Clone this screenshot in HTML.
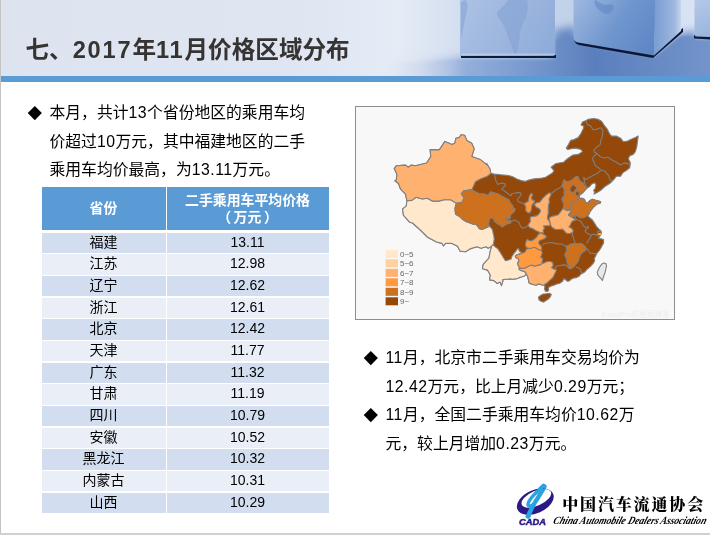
<!DOCTYPE html>
<html lang="zh-CN">
<head>
<meta charset="utf-8">
<title>七、2017年11月价格区域分布</title>
<style>
html,body{margin:0;padding:0;}
body{width:710px;height:535px;overflow:hidden;background:#fff;position:relative;
 font-family:"Liberation Sans","Noto Sans CJK SC",sans-serif;color:#000;}
.abs{position:absolute;}
#hdr{left:0;top:0;width:710px;height:76px;background:#dde4f0;overflow:hidden;}
#stripe{left:0;top:76px;width:710px;height:5.6px;background:#5b9bd5;}
#lborder{left:0;top:0;width:1px;height:535px;background:#c3c3c3;}
#bborder{left:0;top:533px;width:710px;height:2px;background:#d0d0d0;}
#title{left:25.5px;top:32.5px;font-size:23.6px;font-weight:bold;color:#363333;white-space:nowrap;line-height:34px;}
#title span{letter-spacing:1.8px;}
.bl{font-size:15.8px;line-height:28.75px;white-space:nowrap;color:#000;}
.n{letter-spacing:0.5px;}
.dia{width:9.6px;height:9.6px;background:#000;transform:rotate(45deg);}
table{border-collapse:separate;border-spacing:0;}
#tbl{left:41.5px;top:187px;width:287px;}
.th{background:#5b9bd5;color:#fff;font-weight:bold;font-size:13.9px;text-align:center;}
.tr{height:20.5px;font-size:14px;line-height:19px;text-align:center;}
.c1{left:0;width:124px;}
.c2{left:125px;width:162px;}
#mapframe{left:355px;top:106px;width:318px;height:212px;border:1px solid #8e8e8e;background:#f8f8f8;}
</style>
</head>
<body>
<div id="hdr" class="abs"><svg class="abs" style="left:0;top:0" width="710" height="76" viewBox="0 0 710 76">
<defs>
<linearGradient id="bgx" x1="0" y1="0" x2="710" y2="0" gradientUnits="userSpaceOnUse">
<stop offset="0" stop-color="#dde3ef"/><stop offset="0.42" stop-color="#dfe5f1"/><stop offset="0.56" stop-color="#e6ecf6"/><stop offset="0.66" stop-color="#d0dcef"/><stop offset="0.8" stop-color="#c2d1ea"/><stop offset="1" stop-color="#dbe5f4"/>
</linearGradient>
<linearGradient id="floor" x1="380" y1="0" x2="710" y2="0" gradientUnits="userSpaceOnUse">
<stop offset="0" stop-color="#dfe5f1" stop-opacity="0"/><stop offset="0.12" stop-color="#cdd8ec" stop-opacity="0.5"/><stop offset="0.2" stop-color="#b4c6e4" stop-opacity="0.95"/><stop offset="0.26" stop-color="#93aedb"/><stop offset="0.4" stop-color="#7f9fd2"/><stop offset="0.65" stop-color="#5a7fbd"/><stop offset="1" stop-color="#7394cb"/>
</linearGradient>
<linearGradient id="floorv" x1="0" y1="20" x2="0" y2="76" gradientUnits="userSpaceOnUse">
<stop offset="0" stop-color="#fff" stop-opacity="0.0"/><stop offset="0.5" stop-color="#fff" stop-opacity="0"/><stop offset="1" stop-color="#fff" stop-opacity="0.12"/>
</linearGradient>
<linearGradient id="c1" x1="460" y1="0" x2="555" y2="56" gradientUnits="userSpaceOnUse">
<stop offset="0" stop-color="#adc2e4"/><stop offset="0.5" stop-color="#9db6de"/><stop offset="1" stop-color="#8caad9"/>
</linearGradient>
<linearGradient id="c2" x1="574" y1="0" x2="655" y2="55" gradientUnits="userSpaceOnUse">
<stop offset="0" stop-color="#9fb9e0"/><stop offset="0.5" stop-color="#7096ce"/><stop offset="1" stop-color="#5c84c4"/>
</linearGradient>
<linearGradient id="c2s" x1="655" y1="0" x2="681" y2="0" gradientUnits="userSpaceOnUse">
<stop offset="0" stop-color="#7a9dd2"/><stop offset="0.75" stop-color="#9db7df"/><stop offset="1" stop-color="#c6d6ee"/>
</linearGradient>
<linearGradient id="c3" x1="694" y1="0" x2="710" y2="36" gradientUnits="userSpaceOnUse">
<stop offset="0" stop-color="#b5c9e8"/><stop offset="1" stop-color="#9ab5de"/>
</linearGradient>
<filter id="b2" x="-20%" y="-20%" width="140%" height="140%"><feGaussianBlur stdDeviation="1.2"/></filter>
<filter id="b6" x="-30%" y="-30%" width="160%" height="160%"><feGaussianBlur stdDeviation="4"/></filter>
<filter id="b1" x="-20%" y="-20%" width="140%" height="140%"><feGaussianBlur stdDeviation="0.7"/></filter>
</defs>
<rect x="0" y="0" width="710" height="76" fill="url(#bgx)"/>
<!-- floor -->
<g filter="url(#b6)">
<path d="M370,84 L370,62 L462,57 L552,58 L554,30 L576,26 L576,40 L654,56 L680,34 L696,30 L696,38 L720,38 L720,84 Z" fill="url(#floor)"/>
</g>
<g filter="url(#b2)">
<path d="M380,84 L380,63 L460,60 L556,60 L556,40 L575,36 L576,44 L654,58 L681,36 L694,36 L694,40 L720,40 L720,84 Z" fill="url(#floor)"/>
</g>
<!-- cube 1 -->
<path d="M461,58 L556,58 L556,55 L461,55 Z" fill="#0e1c3c" filter="url(#b1)"/>
<rect x="460" y="-2" width="95" height="58" rx="2" fill="url(#c1)"/>
<g fill="#7f9fd5" opacity="0.5" filter="url(#b1)">
<path d="M461,2 L466,0 L468,6 C467,12 465,18 464,24 C463,30 462,34 461,36 Z"/>
<path d="M508,0 L527,0 C528.5,6 528,12 526,17 C524,22 521,27 520,32 C519.5,38 519,44 518,50 C516.5,54 514.5,55 513.5,52 C512,46 509,40 507,34 C505,28 503,24 500,20 C498,17 496.5,14 497,12 C500,9 504,6 508,0 Z"/>
</g>
<rect x="461" y="53.6" width="94" height="1.2" fill="#c9d8ef" opacity="0.7"/>
<!-- cube 2 -->
<path d="M574,40 Q575,44 579,45 L653,58 L683,32 L683,28 L653,53 L580,40 Z" fill="#0b1836" filter="url(#b1)"/>
<path d="M573.5,-2 L573.5,38 Q574,42 578,42.5 L654,55.5 L656,-2 Z" fill="url(#c2)"/>
<path d="M655,-2 L654,55.5 L681,31 L681,-2 Z" fill="url(#c2s)"/>
<g fill="#567fc0" opacity="0.45" filter="url(#b1)">
<path d="M596,0 C600,4 606,6 612,4 C616,8 612,14 606,14 C600,12 596,8 594,2 Z"/>
</g>
<!-- cube 3 -->
<path d="M694,38.5 L710,39.5 L710,36 L694,35 Z" fill="#0e1c3c" filter="url(#b1)"/>
<path d="M694.5,-2 L694.5,35 Q695,36.5 697,36.6 L712,37.2 L712,-2 Z" fill="url(#c3)"/>
</svg>
</div>
<div id="stripe" class="abs"></div>
<div id="title" class="abs">七、<span>2017</span>年<span>11</span>月价格区域分布</div>

<div class="abs dia" style="left:30px;top:107.9px"></div>
<div class="abs bl" style="left:49.5px;top:98.9px">本月，共计<span class="n">13</span>个省份地区的乘用车均</div>
<div class="abs bl" style="left:49.5px;top:127.65px">价超过<span class="n">10</span>万元，其中福建地区的二手</div>
<div class="abs bl" style="left:49.5px;top:156.4px">乘用车均价最高，为<span class="n">13.11</span>万元。</div>

<div id="tbl" class="abs"><div class="abs th c1" style="top:0;height:42.5px;line-height:42.5px">省份</div>
<div class="abs th c2" style="top:0;height:42.5px;line-height:16.6px"><div style="padding-top:5.3px">二手乘用车平均价格<br><span style="margin-right:2.5px">（</span>万元<span style="margin-left:2.5px">）</span></div></div>
<div class="abs tr c1" style="top:45.50px;background:#d2deef">福建</div>
<div class="abs tr c2" style="top:45.50px;background:#d2deef">13.11</div>
<div class="abs tr c1" style="top:67.18px;background:#eaeff7">江苏</div>
<div class="abs tr c2" style="top:67.18px;background:#eaeff7">12.98</div>
<div class="abs tr c1" style="top:88.86px;background:#d2deef">辽宁</div>
<div class="abs tr c2" style="top:88.86px;background:#d2deef">12.62</div>
<div class="abs tr c1" style="top:110.54px;background:#eaeff7">浙江</div>
<div class="abs tr c2" style="top:110.54px;background:#eaeff7">12.61</div>
<div class="abs tr c1" style="top:132.22px;background:#d2deef">北京</div>
<div class="abs tr c2" style="top:132.22px;background:#d2deef">12.42</div>
<div class="abs tr c1" style="top:153.90px;background:#eaeff7">天津</div>
<div class="abs tr c2" style="top:153.90px;background:#eaeff7">11.77</div>
<div class="abs tr c1" style="top:175.58px;background:#d2deef">广东</div>
<div class="abs tr c2" style="top:175.58px;background:#d2deef">11.32</div>
<div class="abs tr c1" style="top:197.26px;background:#eaeff7">甘肃</div>
<div class="abs tr c2" style="top:197.26px;background:#eaeff7">11.19</div>
<div class="abs tr c1" style="top:218.94px;background:#d2deef">四川</div>
<div class="abs tr c2" style="top:218.94px;background:#d2deef">10.79</div>
<div class="abs tr c1" style="top:240.62px;background:#eaeff7">安徽</div>
<div class="abs tr c2" style="top:240.62px;background:#eaeff7">10.52</div>
<div class="abs tr c1" style="top:262.30px;background:#d2deef">黑龙江</div>
<div class="abs tr c2" style="top:262.30px;background:#d2deef">10.32</div>
<div class="abs tr c1" style="top:283.98px;background:#eaeff7">内蒙古</div>
<div class="abs tr c2" style="top:283.98px;background:#eaeff7">10.31</div>
<div class="abs tr c1" style="top:305.66px;background:#d2deef">山西</div>
<div class="abs tr c2" style="top:305.66px;background:#d2deef">10.29</div></div>

<div id="mapframe" class="abs"></div>
<svg class="abs" style="left:0;top:0" width="710" height="535" viewBox="0 0 710 535">
<g stroke="#808080" stroke-width="1.1" stroke-linejoin="round">
<polygon fill="#944809" points="394.2,168.6 396.3,165.8 405.5,165.1 408.3,167.2 411.1,165.1 415.4,165.8 426.6,163 430.8,156.6 430.1,149.6 439.3,149.9 444.9,141.4 452,144.6 454.8,143.2 455.9,138.3 459,137.6 461.1,134.8 464.6,135.2 466.8,140.4 471.7,143.2 474.2,148.9 471.7,156.6 480.1,159.4 487.2,165.1 486.6,163.5 490.1,169.2 490.8,173.4 494.4,174.1 500.7,174.8 504.2,175.1 508.5,175.5 512.7,176.8 516.9,178.9 521.1,180.6 525.4,181.4 528.7,180.1 533.8,178.9 538,178.5 542.3,178 545.6,177.2 549,175.1 552.4,173 554.1,170.8 551.1,167.1 556,163.5 563.5,162.2 568.5,158 572.7,155.1 578.3,154.4 582.5,151.6 581.1,149.5 575.5,148.1 571.3,148.8 567.7,149.5 566.3,148.1 568.5,144.6 570.6,140.4 574.1,139.6 578.3,137.5 581.1,133.3 583.2,129.1 583.9,126.3 581.1,124.9 582.5,122 586.1,120.6 588.2,119.2 593.8,118.5 598,119.2 601.5,121.3 604.4,125.6 607.2,129.1 609.3,133.3 611.4,136.1 616.3,136.1 620.6,138.2 623.4,141.8 627.6,141.1 631.8,138.9 635.4,137.5 638.2,136.1 637.5,141.1 636.8,146.7 635.4,151.6 633.2,154.4 629.7,155.8 628.3,158.7 630.4,162.9 629.7,167.8 626.2,170.6 622.7,172.7 620.6,176.3 616.3,176.3 613.5,179.8 610,183.3 604.9,186.5 600.7,190.3 597.3,192.4 593.9,194.1 594.8,191.5 593.5,190.7 595.2,188.2 596.1,184.8 594.4,182.7 591.8,183.9 589.7,186.5 586.8,188.2 584.6,190.7 582.5,192.8 580.4,194.5 579.2,195.8 579.6,198.3 582.1,198.3 584.6,199.6 585.5,202.5 587.6,203 589.7,200.8 592.3,199.2 594.8,200 597.7,200.8 600.7,201.7 599.9,203.4 597.3,203.8 595.2,205.5 593.1,207.6 591.4,209.7 589.7,212.3 588.5,215 587.1,215.6 589.6,217.7 592.2,219.8 593.9,222.3 595.6,224.9 596.8,227 598.9,229.1 600.6,230.4 601.3,232 601.3,233.7 600.5,235 599.8,236.3 598.5,238.4 601.1,238.8 603.6,239.6 603.6,243 601.9,245.9 600.6,248.5 598.9,251 596.8,253.5 595.6,256.1 594.3,258.2 594.7,260.7 593,263.7 590.9,265.8 588.8,267.9 586.7,269.6 585,271.7 582.9,273 582,273.4 580.4,274.6 579.1,276.3 576.5,277.6 574,278 571.5,278.9 569.8,280.6 567.7,281.4 565.6,279.7 563.9,278.5 563,280.6 561.3,282.3 559.2,283.5 556.7,283.9 553.8,285.2 551.3,286.1 549.2,286.9 548.3,288.2 548.7,290.3 547,291.5 545.4,291.1 544.5,289 544.9,286.9 544.1,284.8 542.8,285.2 540.7,284.4 538.2,283.9 536.5,285.2 533.9,284.8 531,283.9 528.9,282.7 528.5,280.1 527.5,275.9 526.2,274.2 524.5,275.9 522,276.8 519.9,277.2 517.7,278.5 515.2,278.9 512.7,279.3 510.1,278.9 507.6,279.3 505.1,279.3 502.5,279.7 503,280.6 501.5,285.6 500.1,282 497.3,283.5 493.8,280.6 489.6,279.9 490.3,275 487.5,270.1 482.5,268.7 483.2,264.4 488.9,258.1 490.3,251.1 491.7,246.1 488.2,248.2 486.1,246.8 481.1,248.2 476.9,246.8 469.9,248.9 465.6,251.8 460,251.1 459.7,250.4 457.6,246.2 452,243.4 445.6,243.4 443.5,245.9 442.1,243.4 436.5,242 427.3,237 420.3,230 412.5,223 409.7,222.3 403.4,215.2 402.7,208.9 406.2,206.1 406.9,200.8 405.5,194.1 400.6,189.2 398.5,183.5 394.9,180.7 396.3,179.9 397,174.2"/>
<polygon fill="#ffe8cc" points="406.9,200.8 411.8,200.4 416.1,197.2 422.4,199 427.3,198.3 432.3,201.1 438.6,201.1 444.2,199.7 450.6,199.7 456.3,203.4 454.9,208.6 455.6,214.2 460,216.9 462.5,219.4 465.9,221.5 469.3,222.8 472.7,224.1 476.1,224.5 478.2,227 479.4,228.7 482,229.6 484.9,228.3 487.9,227 489.2,225.8 490.8,227.5 492.5,229.6 493,232.5 493.8,235.5 494.2,238.9 493.8,242.3 493.4,245 493.1,244.7 491.7,246.1 488.2,248.2 486.1,246.8 481.1,248.2 476.9,246.8 469.9,248.9 465.6,251.8 460,251.1 459.7,250.4 457.6,246.2 452,243.4 445.6,243.4 443.5,245.9 442.1,243.4 436.5,242 427.3,237 420.3,230 412.5,223 409.7,222.3 403.4,215.2 402.7,208.9 406.2,206.1 406.9,200.8"/>
<polygon fill="#ffb270" points="394.2,168.6 396.3,165.8 405.5,165.1 408.3,167.2 411.1,165.1 415.4,165.8 426.6,163 430.8,156.6 430.1,149.6 439.3,149.9 444.9,141.4 452,144.6 454.8,143.2 455.9,138.3 459,137.6 461.1,134.8 464.6,135.2 466.8,140.4 471.7,143.2 474.2,148.9 471.7,156.6 480.1,159.4 487.2,165.1 486.6,163.5 490.1,169.2 490.8,173.4 487.3,176.2 480.3,179 475.4,181.8 473.2,186.8 471.8,189.6 463.4,191 461.3,193.8 464.1,198 462,202.3 456.3,203.4 450.6,199.7 444.2,199.7 438.6,201.1 432.3,201.1 427.3,198.3 422.4,199 416.1,197.2 411.8,200.4 406.9,200.8 405.5,194.1 400.6,189.2 398.5,183.5 394.9,180.7 396.3,179.9 397,174.2"/>
<polygon fill="#cd711e" points="456.3,203.4 462,202.3 464.1,198 461.3,193.8 463.4,191 471.8,189.6 475.4,191.7 479.6,193.8 483.8,193.8 488,195.2 490.8,191.7 495.1,193.1 497.9,193.8 503.5,196.9 509.2,200.1 510.1,202.5 512.7,205.5 513.9,208.9 515.4,208.9 514.1,211.8 511.5,213.9 509.9,216.1 510.7,217.7 509,218.6 506.1,218.2 504.8,219 506.9,219.9 509.9,220.3 511.5,221.5 510.3,223.2 506.5,224.1 504.8,225.4 502.3,227 499.7,224.9 497.2,223.7 494.6,221.5 493.4,219 491.3,217.7 489.6,219 489.2,221.1 488.3,224.1 489.2,225.8 487.9,227 484.9,228.3 482,229.6 479.4,228.7 478.2,227 476.1,224.5 472.7,224.1 469.3,222.8 465.9,221.5 462.5,219.4 460,216.9 455.6,214.2 454.9,208.6 456.3,203.4"/>
<polygon fill="#ffe8cc" points="491.7,246.1 493.1,244.7 495.2,246.8 498,248.9 500.8,253.2 503.8,258.2 505.5,260.7 508.5,259.9 511,259 511.8,256.5 513.5,253.9 515.6,251.4 517.3,248.9 518.6,248.5 519.3,251 521.5,252.7 522.8,253.4 520.3,253.9 516.9,254.8 515.2,256.1 516.1,257.7 518.2,258.6 519,260.7 517.7,262.8 518.2,265.4 519.4,267.5 519,269.2 520.7,270.4 523.7,271.3 525.8,272.5 526.2,274.2 524.5,275.9 522,276.8 519.9,277.2 517.7,278.5 515.2,278.9 512.7,279.3 510.1,278.9 507.6,279.3 505.1,279.3 502.5,279.7 503,280.6 501.5,285.6 500.1,282 497.3,283.5 493.8,280.6 489.6,279.9 490.3,275 487.5,270.1 482.5,268.7 483.2,264.4 488.9,258.1 490.3,251.1 491.7,246.1"/>
<polygon fill="#ffb270" points="520.7,270.4 519,269.2 519.9,267.9 522,268.3 524.5,268.3 527,267 529.6,265.8 532.1,264.9 534.6,266.2 537.2,265.4 539.7,264.9 541.8,263.7 544.4,262.8 547.3,261.5 550.7,261.5 552.8,262.8 553.2,265.4 551.5,267.5 554.1,269.2 556.2,269.6 555.9,271.7 554.6,273.8 553.8,275.9 552.5,278 550,280.1 548.3,281.8 546.2,283.5 544.1,284.8 542.8,285.2 540.7,284.4 538.2,283.9 536.5,285.2 533.9,284.8 531,283.9 528.9,282.7 528.5,280.1 527.5,275.9 526.2,274.2 525.8,272.5 523.7,271.3"/>
<polygon fill="#ff9a40" points="515.2,256.1 516.9,254.8 520.3,253.9 522.8,253.1 525.4,251.8 526.2,249.3 529.2,248.5 531.7,248 533.8,247.2 536.3,248 538.9,249.7 541.4,250.6 542.3,252.7 541.4,255.2 540.6,257.3 542.7,258.6 542.3,261.1 541.8,263.7 539.7,264.9 537.2,265.4 534.6,266.2 532.1,264.9 529.6,265.8 527,267 524.5,268.3 522,268.3 519.4,267.5 518.2,265.4 517.7,262.8 519,260.7 518.2,258.6 516.1,257.7"/>
<polygon fill="#ff9a40" points="539.7,232.9 542.3,233.7 544.8,235 546.5,236.7 544.8,238.4 542.3,239.6 539.7,240.5 538.5,242.6 539.3,244.3 541.4,246.4 541.8,249.3 540.6,250.1 538,249.3 536.3,248 533.8,247.2 531.7,248 529.2,248.5 526.6,247.6 525.4,245.5 525.4,244.3 525.8,242.2 527,239.6 529.2,240.5 531.7,240.9 533.8,239.6 536.3,237.5 538,235"/>
<polygon fill="#ffb270" points="549.9,192.8 551.1,194.1 550.3,196.2 549,199.2 549.4,202.1 548.6,204.6 548.2,208 548.6,211.4 548.2,215 548.2,209.2 548.6,212.6 547.7,215.1 547.3,218.5 549,221.1 550.3,223.6 549.4,225.7 546.1,225.7 543.5,226.1 544.4,228.2 543.1,230.4 543.5,232.9 540.6,232.9 538,231.6 535.5,230.4 533,228.7 529.6,227.4 527.9,225.7 528.7,224 530.4,221.5 530,218.9 530.8,216.8 533.8,216.4 537.2,215.6 539.3,213.5 540.6,210.9 539.3,208.8 536.3,207.2 534.6,205.1 535.1,203.4 537.2,202.5 539.7,202.1 541.4,200 543.1,197.9 545.2,195.8 547.3,194.1"/>
<polygon fill="#ff9a40" points="531.7,193.2 532.5,194.9 531.3,197.9 532.5,200 534.6,200.8 534.2,202.5 532.5,204.2 531.7,206.3 531.3,209.7 530.8,210.9 530,213 527.9,212.6 525.8,210.9 525.8,207.5 525.8,206.8 524.5,204.6 524.1,203.4 526.2,202.5 528.3,201.3 528.7,198.3 529.6,195.8 530.4,194.1"/>
<polygon fill="#ffb270" points="561.3,210.9 563,208.4 566,208.8 568.9,209.2 570.2,210.1 571.5,211.3 569.8,213 568.5,215.1 571.9,217.3 574.4,218.9 574.9,220.6 572.3,221.1 571.1,223.2 569.8,225.7 568.9,227 571.5,228.2 573.2,230.4 572.7,232.5 570.2,233.3 567.7,233.7 565.6,232.5 563.9,230.4 562.6,229.1 559.2,229.5 555,229.5 555.8,229.5 552.4,227.8 550.7,225.3 549.9,221.9 549,218.5 550.7,216.8 554.9,215.6 558.3,214.7 559.2,213.5"/>
<polygon fill="#cd711e" points="563.1,181.4 564.4,179.7 565.6,181 567.7,181.8 570.7,180.6 573.2,179.3 574.5,177.6 577,176.3 578.3,177.2 579.2,179.7 580.8,181.8 583,182.7 583.8,184.8 585.5,186.5 586.8,188.2 584.6,190.7 582.5,192.8 580.4,194.5 579.2,195.8 579.6,198.3 577,200.4 574.5,201.7 572.4,203.4 570.7,205.5 569.9,208 570.3,210.1 566.9,210.6 564.8,209.7 563.5,207.2 563.9,203.8 562.7,201.7 561.8,199.2 562.7,197 564.8,195.4 563.9,193.2 564.4,190.3 563.5,187.7 561.8,186.1 562.7,183.9"/>
<polygon fill="#cd711e" points="579.6,198.3 582.1,198.3 584.6,199.6 585.5,202.5 587.6,203 589.7,200.8 592.3,199.2 594.8,200 597.7,200.8 600.7,201.7 599.9,203.4 597.3,203.8 595.2,205.5 593.1,207.6 591.4,209.7 589.7,212.3 588.5,215 587.1,215.6 583.7,217.7 580.4,217.7 577.4,216 575.7,214.3 574.9,216.4 571.9,217.3 568.5,215.1 569.8,213 571.5,211.3 570.2,210.1 570.6,207.5 570.3,210.1 569.9,208 570.7,205.5 572.4,203.4 574.5,201.7 577,200.4 579.6,198.3"/>
<polygon fill="#944809" points="570.3,187.3 572.4,185.2 574.1,184.8 575.8,186.5 577,188.2 575.4,189.9 574.1,192 572,192.4 570.3,191.1 569.9,189"/>
<polygon fill="#944809" points="576.2,191.5 577.9,190.7 579.2,192.8 579.2,195.4 577.5,196.2 575.8,194.9 575.4,193.2"/>
<polygon fill="#cd711e" points="566,246.3 568.9,245.1 571.9,243.8 574.9,243.4 577.8,243.8 580.8,243.4 583.3,244.6 585,246.3 586.3,248.5 585.8,250.1 584.2,251.4 582,252.7 580.4,254.8 579.5,257.3 578.7,259.9 577.4,262.4 575.7,264.5 574,266.6 572.3,267.9 570.2,268.7 568.5,267.9 568.9,265.8 567.7,264.1 566.8,261.5 566.8,259 565.6,256.9 564.7,254.8 565.6,252.7 566.8,250.6 566.4,248.5"/>
<polygon fill="#944809" points="538.6,297 540.7,295.4 543.2,294.1 546.2,293.7 549.2,293.2 551.3,294.5 550.4,296.6 548.7,298.7 546.2,300.4 543.7,302.1 541.1,301.3 539,300"/>
<polygon fill="#e8e8e8" points="601.9,264.1 604,263 606.1,263.7 606.5,266.2 605.7,269.6 604.9,273 603.6,276.3 602.7,279.7 602.3,280.6 601.1,278.5 599.4,276.8 597.7,274.6 597.3,272.1 598.5,269.2 600.2,266.2"/>
<polyline fill="none" points="494.4,174.1 495.8,180.4 497.9,184.6 500,183.5 502.5,183.1 505.1,183.9 505.5,185.6 503.4,187.3 501.7,189.4 504.2,190.7 506.8,192.8 508.9,194.5 511,195.8 511.8,193.7 514.8,193.2 517.7,192.4 520.7,192.8 521.1,194.9 519,197.5 517.3,199.6 518.2,201.7 520.7,202.5 523.2,203.4 524.1,203.8"/>
<polyline fill="none" points="511.5,221.5 514.1,219.9 516.6,221.1 519.2,222.8 519.4,223.6 520.7,226.5 522.8,228.2 525.4,227.4 527.9,225.7"/>
<polyline fill="none" points="551.1,193.7 553.2,192 555.8,189.9 558.3,188.6 560,187.7 561.8,186.1"/>
<polyline fill="none" points="586.8,188.2 584.6,182.7 584.2,180.1 583.6,177.2 584.6,178.5 586.3,179.7 588,178 590.6,176.8 593.9,175.1 597.3,173.4 600.7,170.8"/>
<polyline fill="none" points="586.1,121.3 587.5,124.9 590.3,125.6 593.1,129.8 597.3,129.1 600.8,127.7 603,130.5 602.3,136.1 600.8,140.4 600.1,144.6 597.3,146.7 593.8,150.2 594.5,152.3 596.9,153.3"/>
<polyline fill="none" points="596.9,153.3 600.1,156.5 603.7,158 607.9,157.3 612.1,160.1 616.3,162.2 620.6,165 624.1,162.9 627.6,163.6 630,164.3"/>
<polyline fill="none" points="596.9,153.3 593.1,157.3 592.4,159.4 594.5,162.9 595.2,165.7 598.7,167.8 600.8,169.9"/>
<polyline fill="none" points="600.8,169.9 605.1,171.3 608.6,175.6 610,179.8 612.4,181.2"/>
<polyline fill="none" points="542.3,245.1 543.9,243.8 547.3,243 550.7,242.5 554.9,243.4 560,244.2 561.3,243.8 563.5,245.1 566,246.3"/>
<polyline fill="none" points="572.7,232.5 572.3,234.2 573.2,236.7 574,239.6 575.3,242.6"/>
<polyline fill="none" points="574.9,220.6 575.7,218.9 577.8,220.2 580.4,221.1 582,223.2 583.3,225.7 585.4,227.4 588,226.5 588.4,227.8 586.3,229.1 585,230.8 586.7,232.9 588.8,234.2 591.3,235"/>
<polyline fill="none" points="575.7,218.9 575.3,216.4"/>
<polyline fill="none" points="591.3,235 593,234.2 595.6,234.6 597.3,235.8 599.8,236.3"/>
<polyline fill="none" points="601.3,232 598.1,230.8 597.3,232.9 597.7,235.6"/>
<polyline fill="none" points="591.3,235 590.5,237.5 588.8,239.6 587.5,242.2 586.3,243.5"/>
<polyline fill="none" points="596.8,253.5 594.7,253.9 592.6,253.1 590.5,253.5 588.8,251.4 587.5,249.3 586.3,248.5"/>
<polyline fill="none" points="575.7,267 579.1,268.3 580.8,269.6 581.2,272.1 582,273.4"/>
<polyline fill="none" points="568.5,268.3 566.8,265.4 564.3,264.9 560.9,265.4 557.5,265.8 555,267.5 555.8,269.2"/>
</g>
<polygon fill="#f5c018" points="598.1,233.3 600.2,232.7 601.3,233.7 600.5,235 598.3,235"/>
<rect x="385.6" y="249.8" width="12.4" height="8" fill="#ffe8cc"/>
<text x="400" y="256.8" font-family="Liberation Sans, sans-serif" font-size="8" fill="#666">0~5</text>
<rect x="385.6" y="259.3" width="12.4" height="8" fill="#ffd0a0"/>
<text x="400" y="266.3" font-family="Liberation Sans, sans-serif" font-size="8" fill="#666">5~6</text>
<rect x="385.6" y="268.8" width="12.4" height="8" fill="#ffb270"/>
<text x="400" y="275.8" font-family="Liberation Sans, sans-serif" font-size="8" fill="#666">6~7</text>
<rect x="385.6" y="278.3" width="12.4" height="8" fill="#ff9a40"/>
<text x="400" y="285.3" font-family="Liberation Sans, sans-serif" font-size="8" fill="#666">7~8</text>
<rect x="385.6" y="287.8" width="12.4" height="8" fill="#cd711e"/>
<text x="400" y="294.8" font-family="Liberation Sans, sans-serif" font-size="8" fill="#666">8~9</text>
<rect x="385.6" y="297.3" width="12.4" height="8" fill="#944809"/>
<text x="400" y="304.3" font-family="Liberation Sans, sans-serif" font-size="8" fill="#666">9~</text>
<text x="602" y="317" font-family="Liberation Sans, Noto Sans CJK SC, sans-serif" font-size="7.5" fill="#ededed">ExcelPro的图表博客</text>
</svg>

<div class="abs dia" style="left:365.9px;top:352.9px"></div>
<div class="abs bl" style="left:385.5px;top:343.9px"><span class="n">11</span>月，北京市二手乘用车交易均价为</div>
<div class="abs bl" style="left:385.5px;top:372.65px"><span class="n">12.42</span>万元，比上月减少<span class="n">0.29</span>万元；</div>
<div class="abs dia" style="left:365.9px;top:409.9px"></div>
<div class="abs bl" style="left:385.5px;top:401.4px"><span class="n">11</span>月，全国二手乘用车均价<span class="n">10.62</span>万</div>
<div class="abs bl" style="left:385.5px;top:430.15px">元，较上月增加<span class="n">0.23</span>万元。</div>

<svg class="abs" style="left:0;top:0" width="710" height="535" viewBox="0 0 710 535">
<g transform="translate(535.3,501.6) rotate(-24)">
<path fill="#2b1a86" fill-rule="evenodd" d="M-19.5,0 A19.5,11.6 0 1 0 19.5,0 A19.5,11.6 0 1 0 -19.5,0 Z M-13.6,-2.6 A15.9,7.4 0 1 1 18.2,-2.6 A15.9,7.4 0 1 1 -13.6,-2.6 Z"/>
</g>
<g fill="none" stroke="#2aa3df" stroke-linecap="round" stroke-linejoin="round">
<path d="M527.9,516.6 C529.6,512.6 531.2,509.2 532.9,506 C534.8,502.4 536.6,499.6 538.6,496.7 C540,494.4 541.4,492 542.6,490 C543.4,488.6 544,487.4 544.5,486.4" stroke-width="4.4"/>
<path d="M543.4,485.2 C541,487.4 539,489.6 537.2,491.8 C535.4,493.6 533.6,495.2 532.2,496.8 C530.8,498.4 529.8,499.8 529,501.4 C528.2,502.8 527.6,504 527.9,504.9 C528.4,506 529.6,506.2 530.6,505.9 C531.8,505.6 532.8,505.2 533.8,504.4" stroke-width="3.4"/>
</g>
<path d="M525.3,517.2 L530.5,517.2 L531.6,514 L526.6,514 Z" fill="#2aa3df"/>
<circle cx="543.8" cy="488.6" r="0.7" fill="#5a4aa8"/>
<text x="519" y="524.6" font-family="Liberation Sans, sans-serif" font-weight="bold" font-style="italic" font-size="9.2" fill="#2b1a86" textLength="27" lengthAdjust="spacingAndGlyphs" stroke="#2b1a86" stroke-width="0.5">CADA</text>
<text x="562.2" y="510" font-family="Noto Serif CJK SC, Liberation Serif, serif" font-weight="900" font-size="16" fill="#000" letter-spacing="1.85">中国汽车流通协会</text>
<text transform="translate(552.5,524.3) skewX(-18)" font-family="Liberation Serif, serif" font-style="italic" font-weight="bold" font-size="11" fill="#000" textLength="153" lengthAdjust="spacingAndGlyphs">China Automobile Dealers Association</text>
</svg>

<div id="lborder" class="abs"></div>
<div id="bborder" class="abs"></div>
</body>
</html>
